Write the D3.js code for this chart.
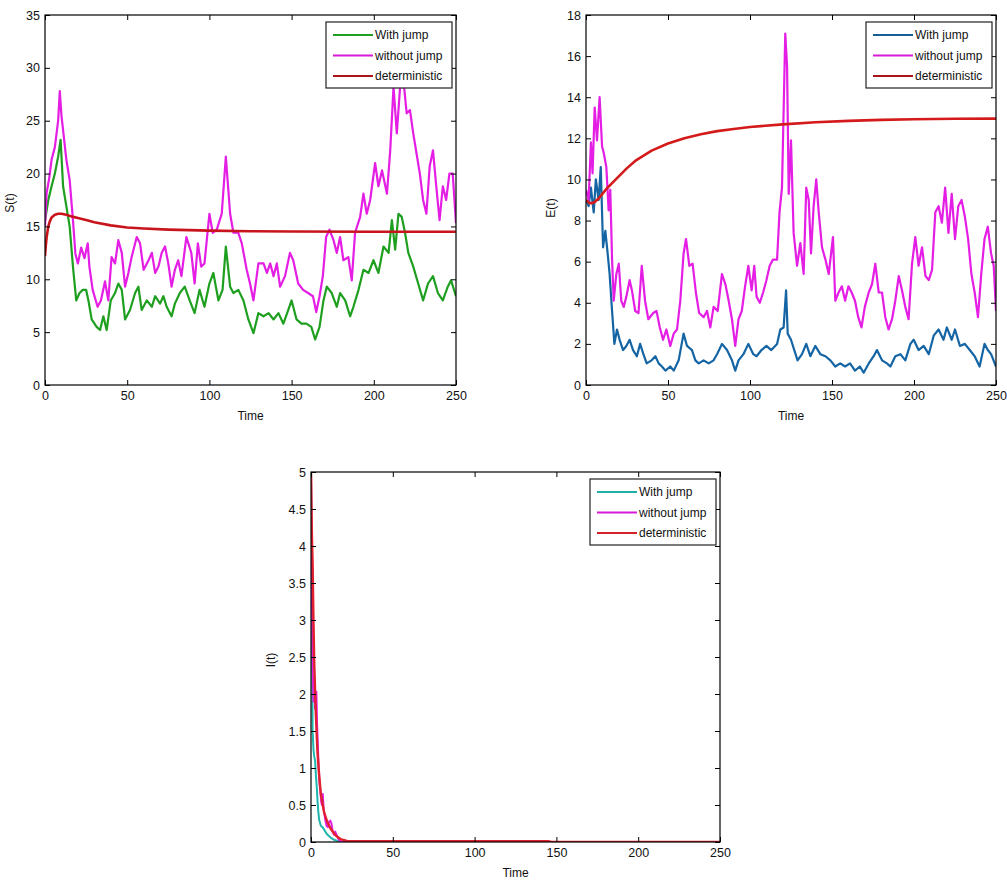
<!DOCTYPE html>
<html>
<head>
<meta charset="utf-8">
<script src="https://cdn.jsdelivr.net/npm/d3@7"></script>
<style>
  body { margin: 0; background: #fff; }
  svg { display: block; font-family: "Liberation Sans", Arial, sans-serif; }
</style>
</head>
<body>
<div id="chart"></div>
<script>
// ---- data: [time, value] ----
const xTicks = [0, 50, 100, 150, 200, 250];
const sTicks = [0, 5, 10, 15, 20, 25, 30, 35];
const eTicks = [0, 2, 4, 6, 8, 10, 12, 14, 16, 18];
const iTicks = [0, 0.5, 1, 1.5, 2, 2.5, 3, 3.5, 4, 4.5, 5];
const legendNames = ['With jump', 'without jump', 'deterministic'];

const sWith = [[0,15.5],[2,17.5],[4,18.8],[6,20],[8,21.6],[9.5,23.2],[11,18.8],[13,16.9],[15,15],[17,11.2],[19,8],[21,8.7],[23,9],[25,9],[26.4,8],[28.4,6.2],[31.4,5.5],[33.5,5.2],[35.5,6.5],[37.5,5.2],[40,8],[42.6,8.7],[44.6,9.6],[46.7,9],[48.7,6.2],[51.7,7.1],[54.8,8.7],[56.8,9.3],[58.8,7.1],[61.9,8],[65,7.4],[67,8.4],[70,7.7],[72,8.4],[74,7.4],[77,6.5],[79,7.7],[82,8.7],[85,9.3],[88,8],[91,6.8],[94,9],[97,7.4],[100,9.6],[102.4,10.6],[105.5,8],[108,9],[110,13.1],[112.6,9.3],[114.6,8.7],[117.6,9],[120.7,8],[123.7,6.2],[126.8,4.9],[129.8,6.8],[132.9,6.5],[136,6.8],[139,6.2],[142,6.8],[145,5.8],[148,7.1],[150,8],[153,6.2],[156,5.8],[159,5.8],[162,5.5],[164.3,4.3],[167,5.5],[169.4,8],[171.4,9.3],[174.4,8.7],[177.5,7.4],[179.5,8.7],[182.6,8],[185.6,6.5],[187.6,7.4],[190.7,9],[193.7,10.9],[196.8,10.6],[199.8,11.8],[202.8,10.6],[205.9,13.1],[209,12.5],[211,15.6],[213,12.8],[215,16.2],[217,15.9],[219,14.4],[221,12.5],[224,11.2],[227,9.6],[230,8],[233,9.6],[236,10.3],[239,8.7],[242,8],[245,9.3],[247,9.9],[250,8.4]];
const sWithout = [[0,15],[1,18.2],[2.5,19.5],[4,21.3],[6,22.5],[8,25],[9,27.8],[10,25.5],[11,24.1],[13,21.3],[15,19.4],[17,15.6],[18.5,12.4],[20,11.5],[22,13],[24,12],[26,13.4],[27,11.2],[29,9],[32,7.4],[34,8],[36.5,9.8],[38.5,8],[40.5,12.1],[42.6,11.5],[44.6,13.7],[46.7,12.5],[48.7,9.3],[50.7,10.6],[52.7,12.1],[55.8,14],[57.8,13.4],[60,10.9],[63,11.8],[65,12.5],[67,10.6],[69,11.2],[71,12.5],[73,13.1],[75,11.5],[77,9.3],[79,10.9],[81,11.8],[83,10.3],[86,14],[89,12.5],[91,9.6],[93,13.4],[95,11.2],[97,11.5],[100,16.2],[102,14.4],[104.5,14.7],[107.5,16.2],[110,21.6],[112.6,16.2],[114.6,14.4],[117.6,14.4],[119.7,13.4],[122.7,10.9],[124.7,9.6],[126.8,8],[129.8,11.5],[132.9,11.5],[135,10.6],[137,11.5],[139,10.3],[141,11.5],[143,9.3],[146,10.3],[149,12.5],[151,11.8],[154,9.6],[157,9],[160,8.7],[163,8.4],[165,6.9],[167,8.4],[169,10.3],[171,14],[173,14.7],[175.5,13.7],[177.5,12.5],[179.5,14],[181.5,11.8],[184.5,12.1],[186.6,9.9],[188.6,14.4],[191.7,15.9],[193.7,18.1],[195.7,16.2],[197.8,17.5],[200.8,21],[202.8,18.8],[205,20.3],[208,18.1],[210,22.2],[212,28.2],[214,23.8],[216,28.2],[218,28.9],[220,25.7],[222,26],[224,23.8],[226,21.9],[228,20],[230,17.5],[232,16.2],[234,20.7],[236,22.2],[238,18.8],[240,15.6],[242,18.8],[244,17.5],[246,20],[248,20],[250,15.3]];
const sDet = [[0,12.2],[0.5,13.2],[1,14],[2,15],[3,15.5],[4,15.85],[6,16.1],[8,16.2],[10,16.2],[13,16.1],[16,15.95],[20,15.8],[25,15.6],[30,15.4],[40,15.1],[50,14.9],[60,14.8],[75,14.7],[100,14.6],[125,14.55],[150,14.52],[200,14.5],[250,14.5]];

const eWith = [[0,9],[1.6,8.7],[3,9.6],[4.7,8.4],[6,10],[7.7,9],[9,10.6],[10.4,6.7],[11.8,7.5],[13.2,6.4],[14.4,5.4],[15.9,3.6],[17.3,2],[18.9,2.7],[20.5,2.2],[22.6,1.7],[24.6,1.9],[26.6,2.2],[28.7,1.7],[31,1.4],[33,2],[35,1.5],[37,1.05],[40,1.2],[42.3,1.4],[44.3,1.05],[46.3,0.9],[48.4,0.7],[51.4,0.9],[53.5,0.7],[56.5,1.2],[59.5,2.5],[61.6,1.9],[64.6,1.7],[66.7,1.2],[68.7,1.05],[71.7,1.2],[74.8,1.05],[77.8,1.2],[79.9,1.5],[82.9,2],[86,1.7],[89,1.2],[91,0.7],[93,1.2],[96,1.5],[99,2],[102,1.5],[104,1.4],[107,1.7],[110,1.9],[113,1.7],[116.5,2],[118.5,2.7],[120.5,2.8],[122,4.6],[123,2.5],[125,2.2],[127,1.7],[129,1.2],[131.7,1.5],[134.3,2],[136.8,1.4],[139.8,1.9],[142.9,1.5],[146,1.4],[149,1.2],[152,0.9],[155,1.05],[158,0.9],[161,1.05],[164,0.7],[167,0.9],[169.3,0.6],[172.4,1.05],[175.4,1.4],[177.4,1.7],[180.5,1.2],[183.5,1.05],[185.6,0.9],[188.6,1.4],[191.7,1.5],[194.7,1.2],[197.8,2],[199.8,2.2],[202.8,1.7],[205.9,1.9],[209,1.5],[212,2.4],[215,2.7],[218,2.2],[220,2.8],[223,2.2],[225,2.7],[228,1.9],[231,2],[234,1.7],[237,1.4],[240,0.9],[243,2],[245,1.7],[247,1.5],[250,0.9]];
const eWithout = [[0,9.5],[1.6,9],[3,11.8],[4,10.3],[5.3,13.5],[6.7,11.9],[8.3,14],[9.8,11.6],[10.8,11.3],[12.4,10.6],[13.8,8.5],[14.8,9.5],[15.9,6.1],[16.9,4.1],[18.5,5.4],[20,5.9],[21.5,4.1],[23,3.8],[24.6,4.3],[26.6,5.1],[28,4.6],[30,3.6],[32,3.5],[34,5.8],[36,4.1],[38,3.2],[41,3.5],[43,3.6],[45,2.8],[47,2.2],[49,2.7],[51.4,1.9],[53.5,2.5],[55.5,2.7],[57.5,4.1],[59.5,6.4],[61,7.1],[63,5.8],[65,5.9],[67,4.5],[69,3.5],[71.7,3.3],[73.8,3.6],[75.8,2.8],[77.8,3.8],[80.3,3.6],[82.9,5.4],[85,4.9],[87,4.1],[89,3.2],[91,1.9],[93,3.2],[95,3.6],[97,4.8],[99,5.8],[101,4.6],[102.6,5.8],[104,4.3],[106,4],[108,4.5],[110,5.1],[112,5.8],[114,6.1],[116.5,6.1],[118,8.4],[119.5,9.6],[121.5,17.1],[122.6,15.5],[123.6,9.3],[125,11.9],[126.6,7.4],[128.7,5.8],[130.7,6.9],[132.7,5.4],[134.3,9.6],[135.8,9],[137.2,6.4],[138.8,8.7],[140.4,10],[141.9,8.4],[143.9,6.7],[146,6.1],[148,5.4],[150.6,7.2],[152,4.1],[154,4.5],[156,4.8],[158,4.1],[160,4.8],[162,4.5],[164,4.1],[166,3.3],[168,2.8],[170,3.8],[172.4,4.5],[174.4,4.9],[176.4,5.9],[178.5,4.5],[180.5,4.5],[182.5,3.3],[184.5,2.7],[186.6,3.2],[188.6,4.1],[190.7,5.3],[192.7,4.6],[194.7,3.8],[196.7,3.2],[198.8,5.9],[200.8,7.2],[202.8,5.8],[204.9,6.7],[207,5.3],[209,5.1],[211,5.6],[213,8.4],[215,8.7],[217,7.9],[219,9.6],[221,7.4],[223,9.3],[225,7.1],[227,8.7],[229,9],[231,8.2],[233,7.1],[235,5.4],[237,4.5],[239,3.3],[241,5.4],[243,7.1],[245,7.7],[247,6.4],[248.6,5.8],[250,3.6]];
const eDet = [[0,9],[2,8.85],[4,8.85],[6,8.95],[8,9.1],[10,9.3],[12,9.5],[15,9.75],[20,10.15],[25,10.55],[30,10.9],[40,11.4],[50,11.75],[60,12],[70,12.2],[80,12.35],[90,12.45],[100,12.55],[120,12.68],[140,12.78],[160,12.85],[180,12.9],[200,12.93],[225,12.95],[250,12.96]];

const iWith = [[0,5],[0.5,3],[1,1.5],[1.5,1.25],[2,1.15],[2.5,1.1],[3,0.9],[3.5,0.75],[4,0.55],[4.5,0.4],[5,0.3],[6,0.22],[7,0.2],[8,0.17],[9,0.13],[10,0.1],[11,0.08],[12,0.06],[14,0.03],[16,0.015],[18,0.005],[20,0],[250,0]];
const iWithout = [[0,5],[0.5,3.5],[1,2.4],[1.5,1.9],[2,2.05],[2.5,1.8],[3,2],[3.3,2.03],[3.7,1.6],[4.2,1.3],[4.7,1],[5.2,0.8],[5.7,0.7],[6.2,0.55],[6.7,0.5],[7.2,0.65],[7.7,0.45],[8.2,0.38],[8.7,0.3],[9.5,0.22],[10.3,0.2],[11,0.27],[11.8,0.29],[12.5,0.25],[13.2,0.15],[14,0.1],[14.8,0.14],[15.6,0.1],[16.3,0.06],[17,0.03],[18,0.01],[20,0],[250,0]];
const iDet = [[0,5],[0.5,4.2],[1,3.75],[1.5,3],[2,2.4],[3,1.7],[4,1.2],[5,0.9],[6,0.65],[8,0.4],[10,0.27],[12,0.18],[15,0.09],[18,0.04],[22,0.015],[30,0.01],[145,0.01],[147,0],[250,0]];

// ---- drawing ----
const svg = d3.select('#chart').append('svg')
    .attr('width', 1007)
    .attr('height', 881);

svg.append('rect').attr('width', 1007).attr('height', 881).attr('fill', '#fff');

const tickFmt = d => String(d);

function drawPanel(cfg) {
    const w = cfg.width, h = cfg.height;
    const g = svg.append('g').attr('transform', `translate(${cfg.left},${cfg.top})`);

    const x = d3.scaleLinear().domain([0, 250]).range([0, w]);
    const y = d3.scaleLinear().domain(cfg.yDomain).range([h, 0]);

    const clipId = 'clip' + cfg.id;
    g.append('clipPath').attr('id', clipId)
        .append('rect').attr('width', w).attr('height', h);

    const line = d3.line()
        .x(d => x(d[0]))
        .y(d => y(d[1]));

    const plot = g.append('g').attr('clip-path', `url(#${clipId})`);
    cfg.series.forEach(s => {
        plot.append('path')
            .datum(s.data)
            .attr('fill', 'none')
            .attr('stroke', s.color)
            .attr('stroke-width', s.width)
            .attr('stroke-linejoin', 'round')
            .attr('d', line);
    });

    // MATLAB-style box with inward ticks
    const styleAxis = a => a.call(s => s.select('.domain').remove())
        .call(s => s.selectAll('line').attr('stroke', '#000'))
        .call(s => s.selectAll('text').attr('font-size', 12.5).attr('fill', '#111'));

    g.append('g').attr('transform', `translate(0,${h})`)
        .call(d3.axisBottom(x).tickValues(xTicks).tickFormat(tickFmt).tickSize(-5).tickPadding(6))
        .call(styleAxis);
    g.append('g')
        .call(d3.axisLeft(y).tickValues(cfg.yTicks).tickFormat(tickFmt).tickSize(-5).tickPadding(5))
        .call(styleAxis);
    g.append('g')
        .call(d3.axisTop(x).tickValues(xTicks).tickSize(-5).tickFormat(''))
        .call(styleAxis);
    g.append('g').attr('transform', `translate(${w},0)`)
        .call(d3.axisRight(y).tickValues(cfg.yTicks).tickSize(-5).tickFormat(''))
        .call(styleAxis);

    g.append('rect')
        .attr('width', w).attr('height', h)
        .attr('fill', 'none').attr('stroke', '#000').attr('stroke-width', 1.2);

    g.append('text')
        .attr('x', w / 2).attr('y', h + 35)
        .attr('text-anchor', 'middle')
        .attr('font-size', 12)
        .attr('fill', '#111')
        .text('Time');

    g.append('text')
        .attr('transform', `translate(${cfg.yLabelX},${h / 2 + cfg.yLabelDy}) rotate(-90)`)
        .attr('text-anchor', 'middle')
        .attr('font-size', 12)
        .attr('fill', '#111')
        .text(cfg.yLabel);

    // legend
    const lw = 126, lh = 66;
    const lg = g.append('g').attr('transform', `translate(${w - lw - 4},${cfg.legendTop})`);
    lg.append('rect')
        .attr('width', lw).attr('height', lh)
        .attr('fill', '#fff').attr('stroke', '#222').attr('stroke-width', 1.2);
    legendNames.forEach((name, i) => {
        const row = lg.append('g').attr('transform', `translate(0,${13 + i * 20.5})`);
        row.append('line')
            .attr('x1', 7).attr('x2', 47)
            .attr('stroke', cfg.legendColors[i]).attr('stroke-width', 2.2);
        row.append('text')
            .attr('x', 49).attr('dy', '0.35em')
            .attr('font-size', 12)
            .attr('fill', '#111')
            .text(name);
    });
}

drawPanel({
    id: 1, left: 45, top: 15, width: 411, height: 370,
    yDomain: [0, 35], yTicks: sTicks, yLabel: 'S(t)', yLabelX: -31, yLabelDy: 3,
    legendTop: 7,
    legendColors: ['#1f9f1f', '#d81bd8', '#a8141a'],
    series: [
        { data: sWith, color: '#1f9f1f', width: 2.2 },
        { data: sWithout, color: '#e41ee4', width: 2.2 },
        { data: sDet, color: '#c8141c', width: 2.6 }
    ]
});

drawPanel({
    id: 2, left: 586, top: 15, width: 410, height: 370,
    yDomain: [0, 18], yTicks: eTicks, yLabel: 'E(t)', yLabelX: -31, yLabelDy: 8,
    legendTop: 7,
    legendColors: ['#155f95', '#d81bd8', '#a8141a'],
    series: [
        { data: eWith, color: '#1565a5', width: 2.2 },
        { data: eWithout, color: '#e41ee4', width: 2.2 },
        { data: eDet, color: '#d41a1a', width: 2.6 }
    ]
});

drawPanel({
    id: 3, left: 311, top: 472, width: 409, height: 370,
    yDomain: [0, 5], yTicks: iTicks, yLabel: 'I(t)', yLabelX: -36, yLabelDy: 3,
    legendTop: 7,
    legendColors: ['#20b0a8', '#d81bd8', '#d42028'],
    series: [
        { data: iWith, color: '#1fb5ad', width: 2 },
        { data: iWithout, color: '#e41ee4', width: 2 },
        { data: iDet, color: '#e0202c', width: 2.4 }
    ]
});
</script>
</body>
</html>
